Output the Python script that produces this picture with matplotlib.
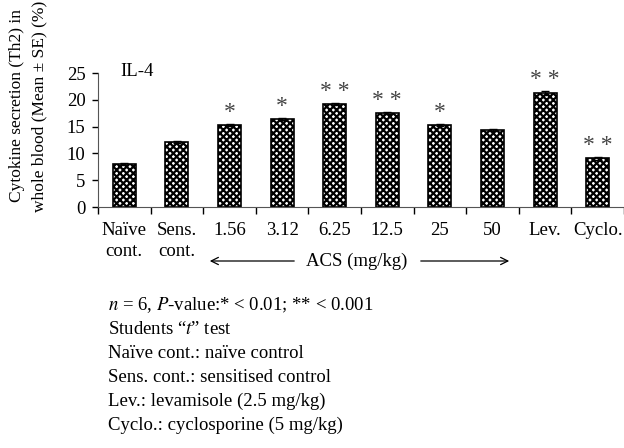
import matplotlib
matplotlib.use('Agg')
import matplotlib.pyplot as plt
import numpy as np

plt.rcParams['font.family'] = ['Liberation Serif', 'DejaVu Serif']
plt.rcParams['mathtext.fontset'] = 'stix'
plt.rcParams['hatch.linewidth'] = 1.6

categories = ['Naïve\ncont.', 'Sens.\ncont.', '1.56', '3.12', '6.25', '12.5', '25', '50', 'Lev.', 'Cyclo.']
values = [8.1, 12.1, 15.3, 16.4, 19.2, 17.5, 15.3, 14.4, 21.3, 9.1]
errors = [0.2, 0.2, 0.2, 0.2, 0.2, 0.2, 0.2, 0.2, 0.4, 0.3]
stars = ['', '', '*', '*', '**', '**', '*', '', '**', '**']
notes = [
    r'$n$ = 6, $P$-value:* < 0.01; ** < 0.001',
    'Students \u201c$t$\u201d test',
    'Naïve cont.: naïve control',
    'Sens. cont.: sensitised control',
    'Lev.: levamisole (2.5 mg/kg)',
    'Cyclo.: cyclosporine (5 mg/kg)',
]

fs = 13.5
fig = plt.figure(figsize=(6.24, 4.48), dpi=100)
ax = fig.add_axes([98/624, 1-207/448, 526/624, 134/448])

x = np.arange(len(categories))
ax.bar(x, values, width=0.44, color='white', edgecolor='black', hatch='xxxxx', linewidth=1.2)
ax.errorbar(x, values, yerr=errors, fmt='none', ecolor='black', elinewidth=1, capsize=3)

for xi, v, e, s in zip(x, values, errors, stars):
    if s:
        ax.text(xi, v + e + 0.2, ' '.join(s), ha='center', va='bottom', fontsize=17, color='#444444')

ax.set_xlim(-0.5, len(categories) - 0.5)
ax.set_ylim(0, 25)
ax.set_yticks([0, 5, 10, 15, 20, 25])
ax.tick_params(axis='y', labelsize=fs, length=4, width=1, direction='out', pad=5)
ax.set_xticks(x)
ax.set_xticklabels(categories, fontsize=fs, linespacing=1.25)
ax.tick_params(axis='x', length=0, pad=11)
ax.set_xticks(np.arange(len(categories) + 1) - 0.5, minor=True)
ax.tick_params(axis='x', which='minor', length=5, width=1, direction='out')
for s in ['top', 'right']:
    ax.spines[s].set_visible(False)
ax.spines['left'].set_color('#555555')
ax.spines['bottom'].set_color('#555555')

ax.text(-0.08, 25.3, 'IL-4', fontsize=fs, va='center', ha='left')

fig.text(17/624, 1-106/448, 'Cytokine secretion (Th2) in', rotation=90, ha='center', va='center', fontsize=12.5)
fig.text(39/624, 1-106/448, 'whole blood (Mean ± SE) (%)', rotation=90, ha='center', va='center', fontsize=12.5)

# ACS arrow
ay = 1 - 261/448
fig.text(357/624, ay, 'ACS (mg/kg)', ha='center', va='center', fontsize=fs)
fig.add_artist(matplotlib.patches.FancyArrowPatch((297/624, ay), (207/624, ay), transform=fig.transFigure,
                                                  arrowstyle='->', mutation_scale=13, lw=0.9, color='black'))
fig.add_artist(matplotlib.patches.FancyArrowPatch((418/624, ay), (512/624, ay), transform=fig.transFigure,
                                                  arrowstyle='->', mutation_scale=13, lw=0.9, color='black'))

for i, line in enumerate(notes):
    fig.text(108/624, 1 - (305 + 24*i)/448, line, ha='left', va='center', fontsize=fs)

fig.savefig('out.png', dpi=100)
